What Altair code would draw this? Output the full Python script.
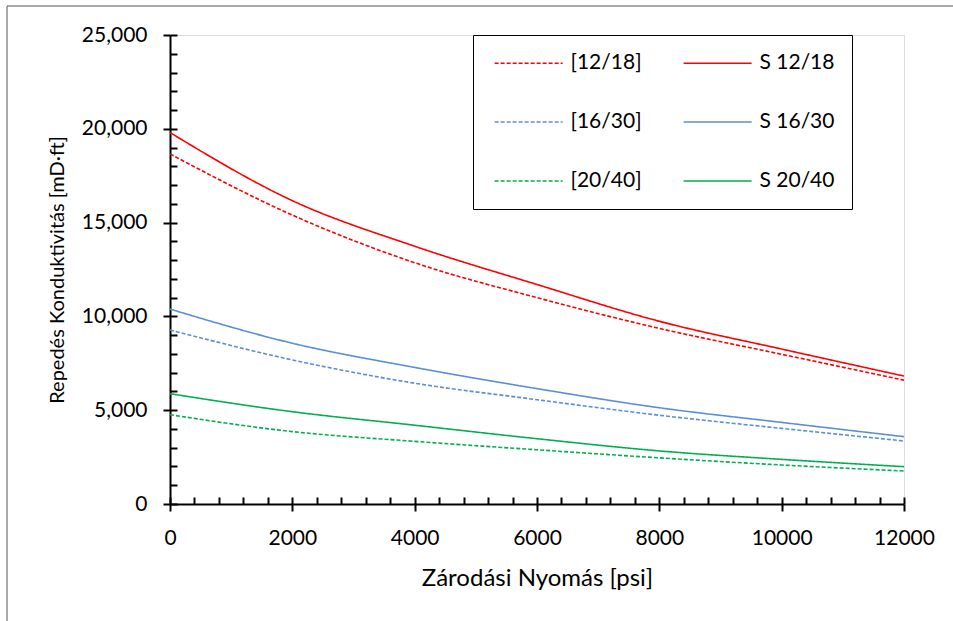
import altair as alt
import pandas as pd

# ---- data ----
pressure = [0, 2000, 4000, 6000, 8000, 10000, 12000]
s_12_18 = [19800, 16170, 13740, 11700, 9740, 8260, 6820]
b_12_18 = [18660, 15400, 12860, 11000, 9360, 7980, 6600]
s_16_30 = [10390, 8570, 7280, 6150, 5130, 4350, 3590]
b_16_30 = [9280, 7680, 6440, 5560, 4730, 4030, 3360]
s_20_40 = [5880, 4920, 4200, 3480, 2830, 2380, 1990]
b_20_40 = [4760, 3860, 3340, 2890, 2460, 2080, 1760]

# legend fills column by column: left column dashed, right column solid
series_names = ["[12/18]", "[16/30]", "[20/40]", "S 12/18", "S 16/30", "S 20/40"]
series_values = [b_12_18, b_16_30, b_20_40, s_12_18, s_16_30, s_20_40]
series_colors = ["#FF0000", "#5B8ED8", "#00B050", "#FF0000", "#5B8ED8", "#00B050"]
series_dash = [[4, 2], [4, 2], [4, 2], [1, 0], [1, 0], [1, 0]]

x_major = [0, 2000, 4000, 6000, 8000, 10000, 12000]
x_minor = list(range(0, 12001, 400))
y_major = [0, 5000, 10000, 15000, 20000, 25000]
y_minor = list(range(0, 25001, 1000))

rows = []
for name, vals in zip(series_names, series_values):
    for p, v in zip(pressure, vals):
        rows.append({"series": name, "pressure": p, "value": v})
df = pd.DataFrame(rows)

FONT = "Lato"
FS = 21

xscale = alt.Scale(domain=[0, 12000], nice=False, zero=False)
yscale = alt.Scale(domain=[0, 25000], nice=False)

legend_opts = dict(orient="none", legendX=303, legendY=0, columns=2, title=None,
                   strokeColor="black", fillColor="white",
                   padding=17.5, rowPadding=37, columnPadding=37,
                   symbolType="M-0.75,0L7.25,0", symbolSize=289,
                   symbolStrokeWidth=1.6, labelOffset=59,
                   labelFontSize=FS, labelFont=FONT, labelColor="black")

lines = alt.Chart(df).mark_line(interpolate="monotone", strokeWidth=1.6, clip=True).encode(
    x=alt.X("pressure:Q", scale=xscale,
            axis=alt.Axis(orient="bottom", values=x_major, format="d", tickSize=7, tickWidth=2,
                          tickColor="black", domainColor="black", domainWidth=2, grid=False,
                          labelFlush=False, labelPadding=16, labelFontSize=FS, labelFont=FONT,
                          labelColor="black",
                          title="Zárodási Nyomás [psi]", titleFontSize=24, titleFont=FONT,
                          titleFontWeight="normal", titleColor="black",
                          titleX=367, titleY=74, titleBaseline="middle", titleAlign="center")),
    y=alt.Y("value:Q", scale=yscale,
            axis=alt.Axis(orient="left", values=y_major, labelExpr="format(datum.value, ',.0f')",
                          tickSize=7, tickWidth=2,
                          tickColor="black", domainColor="black", domainWidth=2, grid=False,
                          labelFlush=False, labelPadding=16, labelFontSize=FS, labelFont=FONT,
                          labelColor="black",
                          title="Repedés Konduktivitás [mD·ft]", titleFontSize=20, titleFont=FONT,
                          titleFontWeight="normal", titleColor="black",
                          titleX=-113, titleY=234.5, titleBaseline="middle", titleAlign="center",
                          titleAngle=270)),
    color=alt.Color("series:N", sort=series_names,
                    scale=alt.Scale(domain=series_names, range=series_colors),
                    legend=alt.Legend(**legend_opts)),
    strokeDash=alt.StrokeDash("series:N", sort=series_names,
                              scale=alt.Scale(domain=series_names, range=series_dash),
                              legend=alt.Legend(**legend_opts)),
)

inner = alt.Chart(df).mark_point(opacity=0).encode(
    x=alt.X("pressure:Q", scale=xscale,
            axis=alt.Axis(orient="bottom", offset=-7, values=x_minor, tickSize=7, tickWidth=2,
                          tickColor="black", labels=False, domain=False, grid=False, title=None)),
    y=alt.Y("value:Q", scale=yscale,
            axis=alt.Axis(orient="left", offset=-7, values=y_minor, tickSize=7, tickWidth=2,
                          tickColor="black", labels=False, domain=False, grid=False, title=None)),
)

frame_df = pd.DataFrame({"k": [0]})
frame_left = alt.Chart(frame_df).mark_rule(color="#555555", strokeWidth=1).encode(
    x=alt.value(-163), y=alt.value(-29), y2=alt.value(600))
frame_top = alt.Chart(frame_df).mark_rule(color="#555555", strokeWidth=1).encode(
    x=alt.value(-163), x2=alt.value(800), y=alt.value(-29))

chart = alt.layer(lines, inner, frame_left, frame_top).resolve_axis(
    x="independent", y="independent"
).properties(
    width=734, height=469,
    autosize="none",
    padding={"left": 170, "top": 35, "right": 49, "bottom": 117},
).configure_view(stroke=None).configure_legend(strokeWidth=1.5).configure(background="white")

chart.save("out.html", embed_options={"renderer": "svg", "actions": False})
